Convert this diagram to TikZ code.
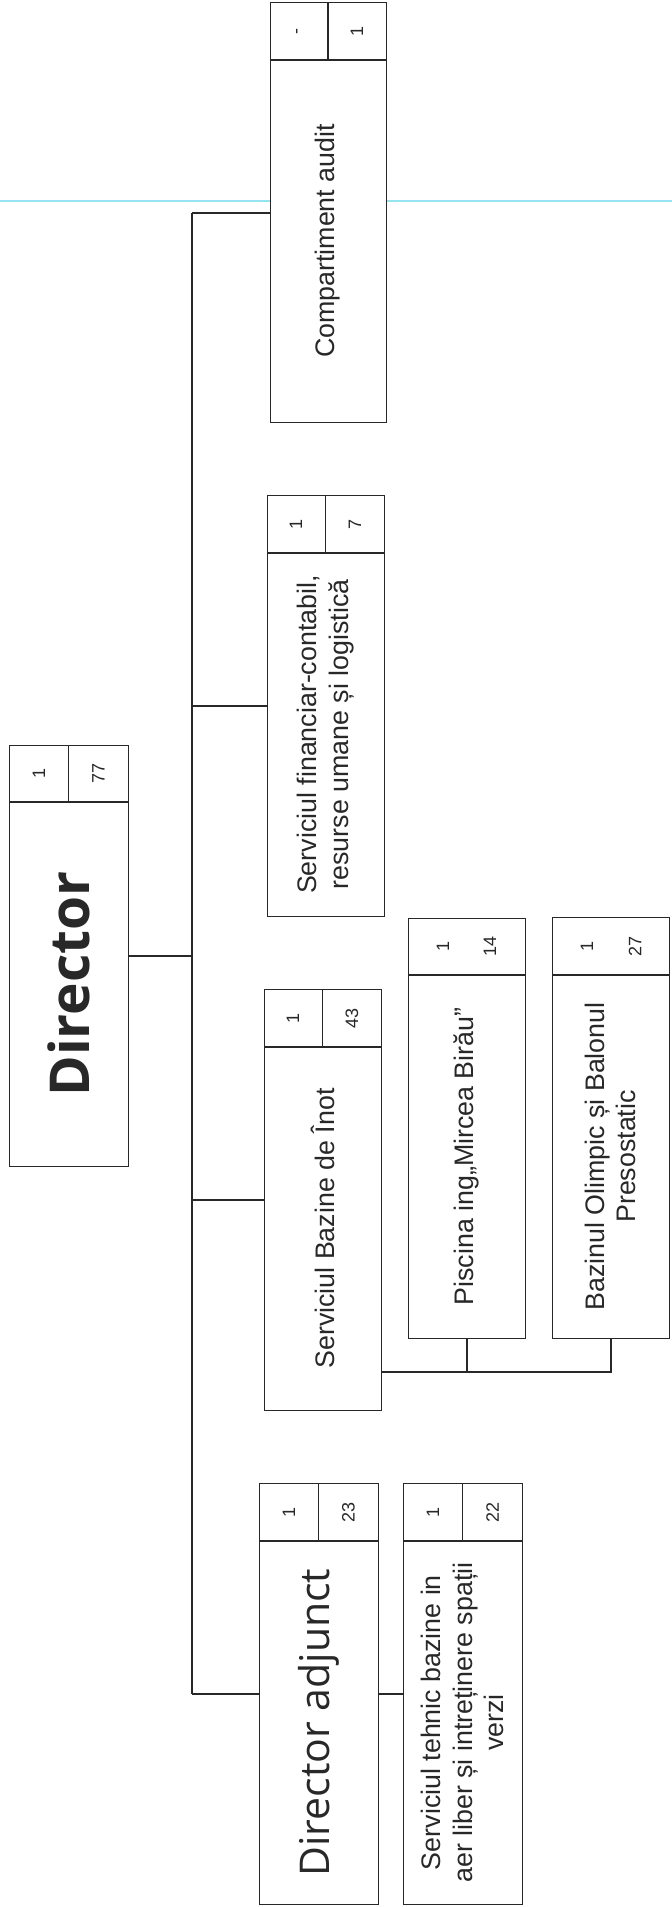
\documentclass[tikz,border=0pt]{standalone}
\usepackage{fontspec}
\setmainfont{Liberation Sans}
\newfontfamily\osans{Open Sans}
\usetikzlibrary{calc}
\definecolor{scancyan}{RGB}{150,228,242}
\definecolor{ink}{RGB}{40,40,40}
\tikzset{
  boxst/.style={draw=ink, line width=0.7pt, inner sep=0pt, fill=white},
  linest/.style={draw=ink, line width=0.7pt},
  conn/.style={draw=ink, line width=0.8pt},
  numst/.style={rotate=90, font=\fontsize{9}{10}\selectfont, inner sep=0pt, text=ink},
  txt/.style={rotate=90, align=center, font=\fontsize{13.4}{15.8}\selectfont, inner sep=0pt, text=ink},
  bigtxt/.style={rotate=90, align=center, inner sep=0pt, text=ink},
}
% #1 name, #2 x1, #3 ytop, #4 width, #5 height, #6 header height, #7 divider (1/0)
\newcommand{\orgbox}[7]{%
  \node[boxst, minimum width=#4*0.5pt, minimum height=#5*0.5pt, anchor=north west] (#1) at (#2,#3) {};
  \draw[linest] ($(#1.north west)+(0,#6)$) -- ($(#1.north east)+(0,#6)$);
  \ifnum#7=1 \draw[linest] ($(#1.north west)+(#4/2,0)$) -- ($(#1.north west)+(#4/2,#6)$);\fi
}
\begin{document}
\begin{tikzpicture}[x=0.5pt,y=-0.5pt]
\useasboundingbox (0,0) rectangle (672,1907);
\fill[white] (0,0) rectangle (672,1907);

% scan artefact line
\draw[scancyan, line width=1pt] (0,201) -- (672,201);

\coordinate (trunk) at (192,0);
\coordinate (bus) at (0,1372);

% boxes
\orgbox{aud}{270}{2}{116}{420}{58}{1}
\orgbox{fin}{267}{495}{117}{421}{58}{1}
\orgbox{dir}{9}{745}{119}{421}{57}{1}
\orgbox{baz}{264}{989}{117}{421}{58}{1}
\orgbox{pis}{408}{918}{117}{420}{57}{0}
\orgbox{oli}{552}{917}{117}{421}{58}{0}
\orgbox{adj}{259}{1483}{119}{421}{58}{1}
\orgbox{teh}{403}{1483}{119}{421}{58}{1}

% header numbers
\node[numst] (aud-a) at (299,31) {-};
\node[numst] (aud-b) at (357,31) {1};
\node[numst] (fin-a) at (296,524) {1};
\node[numst] (fin-b) at (355,524) {7};
\node[numst] (dir-a) at (39,773.5) {1};
\node[numst] (dir-b) at (98.5,773.5) {77};
\node[numst] (baz-a) at (293,1018) {1};
\node[numst] (baz-b) at (352,1018) {43};
\node[numst] (pis-a) at (443,946.5) {1};
\node[numst] (pis-b) at (490,946.5) {14};
\node[numst] (oli-a) at (587,946) {1};
\node[numst] (oli-b) at (635,946) {27};
\node[numst] (adj-a) at (289,1512) {1};
\node[numst] (adj-b) at (348.5,1512) {23};
\node[numst] (teh-a) at (433,1512) {1};
\node[numst] (teh-b) at (492.5,1512) {22};

% body texts
\node[txt] (aud-t) at (328,241) {Compartiment audit};
\node[txt] (fin-t) at (325.5,734.5) {Serviciul financiar-contabil,\\resurse umane și logistică};
\node[bigtxt, font=\osans\bfseries\fontsize{27.5}{30}\selectfont] (dir-t) at (68.5,984) {Director};
\node[txt] (baz-t) at (322.5,1228.5) {Serviciul Bazine de Înot};
\node[txt] (pis-t) at (466.5,1156.5) {Piscina ing„Mircea Birău”};
\node[txt] (oli-t) at (610.5,1156.5) {Bazinul Olimpic și Balonul\\Presostatic};
\node[bigtxt, font=\osans\fontsize{20.5}{24}\selectfont] (adj-t) at (318.5,1722.5) {Director adjunct};
\node[txt] (teh-t) at (462.5,1722.5) {Serviciul tehnic bazine in\\aer liber și intreținere spații\\verzi};

% connectors
\draw[conn] (aud.west -| trunk) -- (adj.west -| trunk);
\draw[conn] (aud.west) -- (aud.west -| trunk);
\draw[conn] (fin.west) -- (fin.west -| trunk);
\draw[conn] (baz.west) -- (baz.west -| trunk);
\draw[conn] (adj.west) -- (adj.west -| trunk);
\draw[conn] (dir.east) -- (dir.east -| trunk);
\draw[conn] (adj.east) -- (teh.west);
\draw[conn] (baz.east |- bus) -- (oli.south |- bus) -- (oli.south);
\draw[conn] (pis.south) -- (pis.south |- bus);
\end{tikzpicture}
\end{document}
